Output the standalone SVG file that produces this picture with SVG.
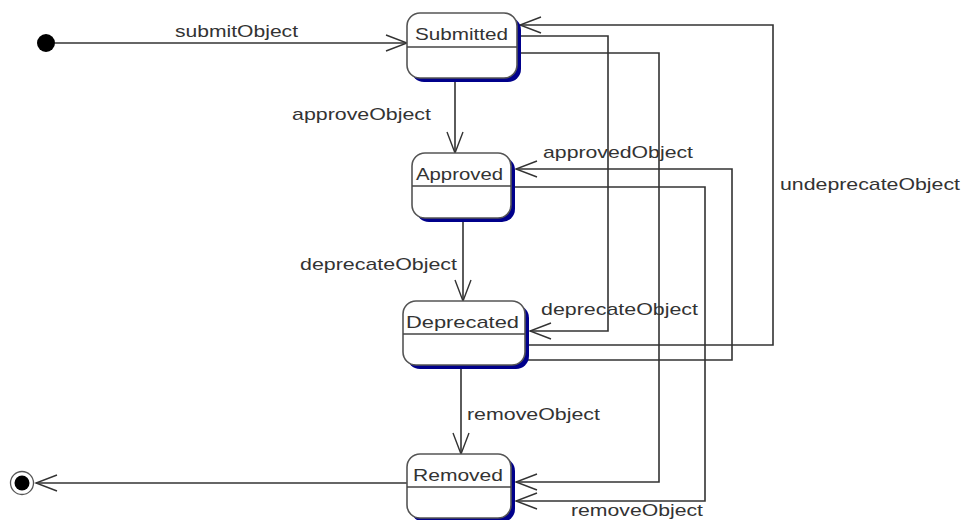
<svg xmlns="http://www.w3.org/2000/svg" width="962" height="520" viewBox="0 0 962 520">
<defs>
<style>
.st{fill:#fff;stroke:#555;stroke-width:1.6}
.sh{fill:#00008b;stroke:none}
.dv{stroke:#444;stroke-width:1.4}
.ln{fill:none;stroke:#333;stroke-width:1.6}
.nt{font-family:"Liberation Sans",Arial,sans-serif;font-size:17px;fill:#333}
.lb{font-family:"Liberation Sans",Arial,sans-serif;font-size:17px;fill:#333}
</style>
<marker id="ah" markerWidth="24" markerHeight="20" refX="22" refY="10" orient="auto" markerUnits="userSpaceOnUse">
<path d="M1,2 L22,10 L1,18" fill="none" stroke="#333" stroke-width="1.4"/>
</marker>
</defs>
<rect width="962" height="520" fill="#fff"/>
<g id="connectors">
<path class="ln" d="M55,43 H407" marker-end="url(#ah)"/>
<path class="ln" d="M455,78 V153" marker-end="url(#ah)"/>
<path class="ln" d="M463,218 V301" marker-end="url(#ah)"/>
<path class="ln" d="M461,365 V454" marker-end="url(#ah)"/>
<path class="ln" d="M407,483 H36" marker-end="url(#ah)"/>
<path class="ln" d="M517,36 H608 V331 H530" marker-end="url(#ah)"/>
<path class="ln" d="M517,53 H659 V482 H516" marker-end="url(#ah)"/>
<path class="ln" d="M511,187 H705 V501 H516" marker-end="url(#ah)"/>
<path class="ln" d="M525,345 H773 V25 H520" marker-end="url(#ah)"/>
<path class="ln" d="M525,360 H732 V169 H516" marker-end="url(#ah)"/>
</g>
<g id="labels">
<text class="lb" x="175" y="37" textLength="123" lengthAdjust="spacingAndGlyphs">submitObject</text>
<text class="lb" x="292" y="120" textLength="139" lengthAdjust="spacingAndGlyphs">approveObject</text>
<text class="lb" x="543" y="158" textLength="150" lengthAdjust="spacingAndGlyphs">approvedObject</text>
<text class="lb" x="300" y="270" textLength="157" lengthAdjust="spacingAndGlyphs">deprecateObject</text>
<text class="lb" x="541" y="315" textLength="157" lengthAdjust="spacingAndGlyphs">deprecateObject</text>
<text class="lb" x="780" y="190" textLength="180" lengthAdjust="spacingAndGlyphs">undeprecateObject</text>
<text class="lb" x="467" y="420" textLength="133" lengthAdjust="spacingAndGlyphs">removeObject</text>
<text class="lb" x="571" y="516" textLength="132" lengthAdjust="spacingAndGlyphs">removeObject</text>
</g>
<g id="initial">
<circle cx="46" cy="43" r="9" fill="#000"/>
</g>
<g id="final">
<circle cx="22" cy="483" r="11.5" fill="#fff" stroke="#555" stroke-width="1.3"/>
<circle cx="22" cy="483" r="7.5" fill="#000"/>
</g>
<g id="Submitted">
<rect class="sh" x="411" y="17" width="110" height="65" rx="13"/>
<rect class="st" x="407" y="13" width="110" height="65" rx="13"/>
<line class="dv" x1="407" y1="47" x2="517" y2="47"/>
<text class="nt" x="415" y="40" textLength="93" lengthAdjust="spacingAndGlyphs">Submitted</text>
</g>
<g id="Approved">
<rect class="sh" x="416" y="157" width="99" height="65" rx="13"/>
<rect class="st" x="412" y="153" width="99" height="65" rx="13"/>
<line class="dv" x1="412" y1="186" x2="511" y2="186"/>
<text class="nt" x="416" y="180" textLength="87" lengthAdjust="spacingAndGlyphs">Approved</text>
</g>
<g id="Deprecated">
<rect class="sh" x="407" y="305" width="122" height="64" rx="13"/>
<rect class="st" x="403" y="301" width="122" height="64" rx="13"/>
<line class="dv" x1="403" y1="334" x2="525" y2="334"/>
<text class="nt" x="406" y="328" textLength="113" lengthAdjust="spacingAndGlyphs">Deprecated</text>
</g>
<g id="Removed">
<rect class="sh" x="411" y="458" width="104" height="64" rx="13"/>
<rect class="st" x="407" y="454" width="104" height="64" rx="13"/>
<line class="dv" x1="407" y1="487" x2="511" y2="487"/>
<text class="nt" x="413" y="481" textLength="90" lengthAdjust="spacingAndGlyphs">Removed</text>
</g>
</svg>
